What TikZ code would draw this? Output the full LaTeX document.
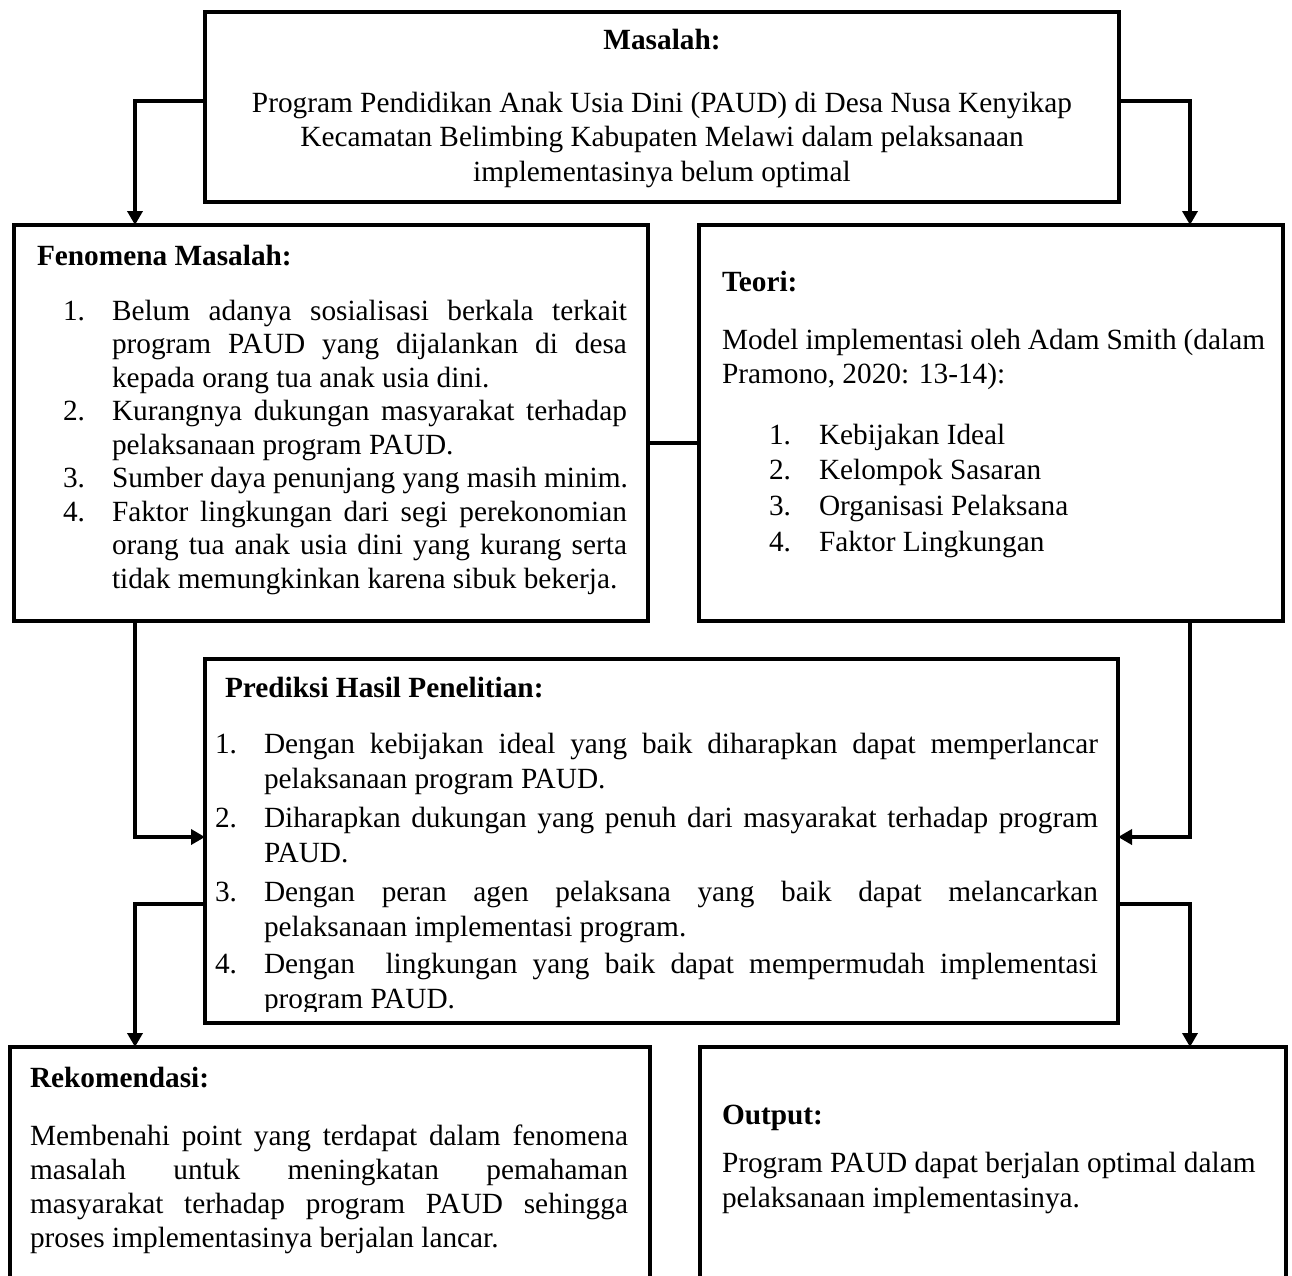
\documentclass[tikz,border=0pt]{standalone}
\usepackage{fontspec}
\setmainfont{Liberation Serif}
\usetikzlibrary{arrows.meta}
\newcommand\jline[2]{\makebox[#1][s]{#2}}
\begin{document}
\begin{tikzpicture}[x=1pt,y=-1pt,
  box/.style={draw=black,line width=4pt,rectangle,inner sep=0pt,outer sep=0pt},
  conn/.style={draw=black,line width=3.8pt},
  arr/.style={conn,-{Triangle[length=14pt,width=15pt]}},
  txt/.style={inner sep=0pt,outer sep=0pt,anchor=base west,font=\fontsize{29.3}{33.5}\selectfont},
  ctxt/.style={txt,anchor=base},
  hd/.style={txt,font=\fontsize{29.3}{33.5}\selectfont\bfseries},
]
\useasboundingbox (0,0) rectangle (1292,1275);

% boxes
\node[box,minimum width=914pt,minimum height=190pt] (mas) at (662,107) {};
\node[box,minimum width=634pt,minimum height=396pt] (fen) at (331,423) {};
\node[box,minimum width=584pt,minimum height=396pt] (teo) at (991,423) {};
\node[box,minimum width=913pt,minimum height=364pt] (pre) at (661.5,841) {};
\node[box,minimum width=640pt,minimum height=253pt] (rek) at (330,1173.5) {};
\node[box,minimum width=586pt,minimum height=253pt] (out) at (993,1173.5) {};

% helper coordinates
\coordinate (xL) at (135,0);
\coordinate (xR) at (1190,0);
\coordinate (yA) at (0,101);
\coordinate (yM) at (0,443);
\coordinate (yP) at (0,837);
\coordinate (yQ) at (0,904);

% connectors
\draw[arr] (mas.west |- yA) -| (fen.north -| xL);
\draw[arr] (mas.east |- yA) -| (teo.north -| xR);
\draw[conn] (fen.east |- yM) -- (teo.west |- yM);
\draw[arr] (fen.south -| xL) |- (pre.west |- yP);
\draw[arr] (teo.south -| xR) |- (pre.east |- yP);
\draw[arr] (pre.west |- yQ) -| (rek.north -| xL);
\draw[arr] (pre.east |- yQ) -| (out.north -| xR);

% Masalah
\node[hd,anchor=base] (masH) at (662,49) {Masalah:};
\node[ctxt] (m1) at (662,112) {Program Pendidikan Anak Usia Dini (PAUD) di Desa Nusa Kenyikap};
\node[ctxt] (m2) at (662,146) {Kecamatan Belimbing Kabupaten Melawi dalam pelaksanaan};
\node[ctxt] (m3) at (662,181) {implementasinya belum optimal};

% Fenomena
\node[hd] (fenH) at (37,265) {Fenomena Masalah:};
\node[txt] (fn1) at (63,320) {1.};
\node[txt] (fl1) at (112,320) {\jline{515pt}{Belum adanya sosialisasi berkala terkait}};
\node[txt] (fl2) at (112,353.5) {\jline{515pt}{program PAUD yang dijalankan di desa}};
\node[txt] (fl3) at (112,387) {kepada orang tua anak usia dini.};
\node[txt] (fn2) at (63,420.5) {2.};
\node[txt] (fl4) at (112,420.5) {\jline{515pt}{Kurangnya dukungan masyarakat terhadap}};
\node[txt] (fl5) at (112,454) {pelaksanaan program PAUD.};
\node[txt] (fn3) at (63,487.5) {3.};
\node[txt] (fl6) at (112,487.5) {Sumber daya penunjang yang masih minim.};
\node[txt] (fn4) at (63,521) {4.};
\node[txt] (fl7) at (112,521) {\jline{515pt}{Faktor lingkungan dari segi perekonomian}};
\node[txt] (fl8) at (112,554.5) {\jline{515pt}{orang tua anak usia dini yang kurang serta}};
\node[txt] (fl9) at (112,588) {tidak memungkinkan karena sibuk bekerja.};

% Teori
\node[hd] (teoH) at (722,291) {Teori:};
\node[txt] (tl1) at (722,349) {\jline{543pt}{Model implementasi oleh Adam Smith (dalam}};
\node[txt] (tl2) at (722,383) {Pramono, 2020: 13-14):};
\node[txt] (tn1) at (769,444) {1.};
\node[txt] (ti1) at (819,444) {Kebijakan Ideal};
\node[txt] (tn2) at (769,479) {2.};
\node[txt] (ti2) at (819,479) {Kelompok Sasaran};
\node[txt] (tn3) at (769,515) {3.};
\node[txt] (ti3) at (819,515) {Organisasi Pelaksana};
\node[txt] (tn4) at (769,551) {4.};
\node[txt] (ti4) at (819,551) {Faktor Lingkungan};

% Prediksi
\node[hd] (preH) at (225,697) {Prediksi Hasil Penelitian:};
\node[txt] (pn1) at (215,753) {1.};
\node[txt] (pl1) at (264,753) {\jline{834pt}{Dengan kebijakan ideal yang baik diharapkan dapat memperlancar}};
\node[txt] (pl2) at (264,788) {pelaksanaan program PAUD.};
\node[txt] (pn2) at (215,827) {2.};
\node[txt] (pl3) at (264,827) {\jline{834pt}{Diharapkan dukungan yang penuh dari masyarakat terhadap program}};
\node[txt] (pl4) at (264,862) {PAUD.};
\node[txt] (pn3) at (215,901) {3.};
\node[txt] (pl5) at (264,901) {\jline{834pt}{Dengan peran agen pelaksana yang baik dapat melancarkan}};
\node[txt] (pl6) at (264,936) {pelaksanaan implementasi program.};
\node[txt] (pn4) at (215,973) {4.};
\node[txt] (pl7) at (264,973) {\jline{834pt}{Dengan\ \ lingkungan yang baik dapat mempermudah implementasi}};
\begin{scope}
\clip (205,659) rectangle (1118,1011);
\node[txt] (pl8) at (264,1008) {program PAUD.};
\end{scope}

% Rekomendasi
\node[hd] (rekH) at (30,1087) {Rekomendasi:};
\node[txt] (rl1) at (30,1145) {\jline{598pt}{Membenahi point yang terdapat dalam fenomena}};
\node[txt] (rl2) at (30,1179) {\jline{598pt}{masalah untuk meningkatan pemahaman}};
\node[txt] (rl3) at (30,1213) {\jline{598pt}{masyarakat terhadap program PAUD sehingga}};
\node[txt] (rl4) at (30,1247) {proses implementasinya berjalan lancar.};

% Output
\node[hd] (outH) at (722,1124) {Output:};
\node[txt] (ol1) at (722,1172) {Program PAUD dapat berjalan optimal dalam};
\node[txt] (ol2) at (722,1207) {pelaksanaan implementasinya.};
\end{tikzpicture}
\end{document}
